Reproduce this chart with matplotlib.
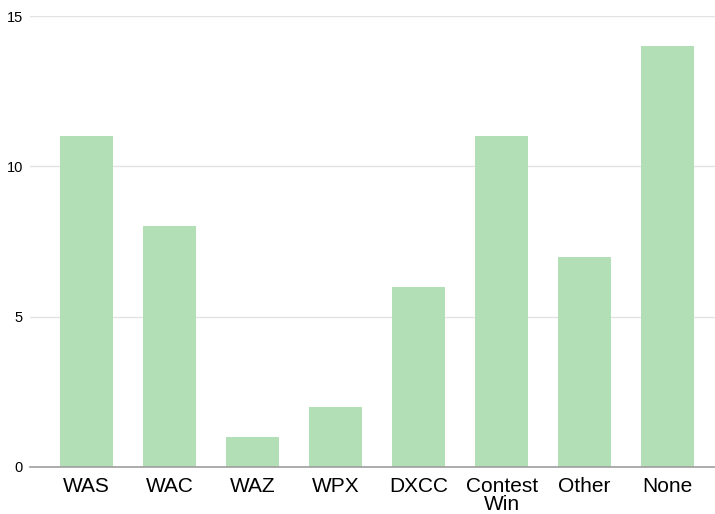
import numpy as np
import matplotlib.pyplot as plt

plt.rcParams['font.family'] = ['Liberation Sans', 'DejaVu Sans']

# Datos
categorias = ['WAS', 'WAC', 'WAZ', 'WPX', 'DXCC', 'Contest\nWin', 'Other', 'None']
valores = [11, 8, 1, 2, 6, 11, 7, 14]
ticks_y = [0, 5, 10, 15]

fig = plt.figure(figsize=(7.15, 5.14), dpi=100)
ax = fig.add_axes([30/715, 47/514, 685/715, 451/514])

x = np.arange(len(categorias))
ax.bar(x, valores, width=0.64, color='#b3dfb6', zorder=3)

ax.set_xlim(-0.68, 7.57)
ax.set_ylim(0, 15)
ax.set_yticks(ticks_y)
ax.set_xticks(x)
ax.set_xticklabels(categorias, fontsize=15, linespacing=0.95)
ax.tick_params(axis='x', length=0, pad=7)
ax.tick_params(axis='y', length=0, pad=5, labelsize=10.5)

ax.grid(axis='y', color='#e3e3e3', linewidth=1, zorder=0)
for s in ['top', 'right', 'left']:
    ax.spines[s].set_visible(False)
ax.spines['bottom'].set_color('#9e9e9e')
ax.spines['bottom'].set_linewidth(1.2)
ax.spines['bottom'].set_zorder(4)

plt.savefig('out.png', dpi=100)
